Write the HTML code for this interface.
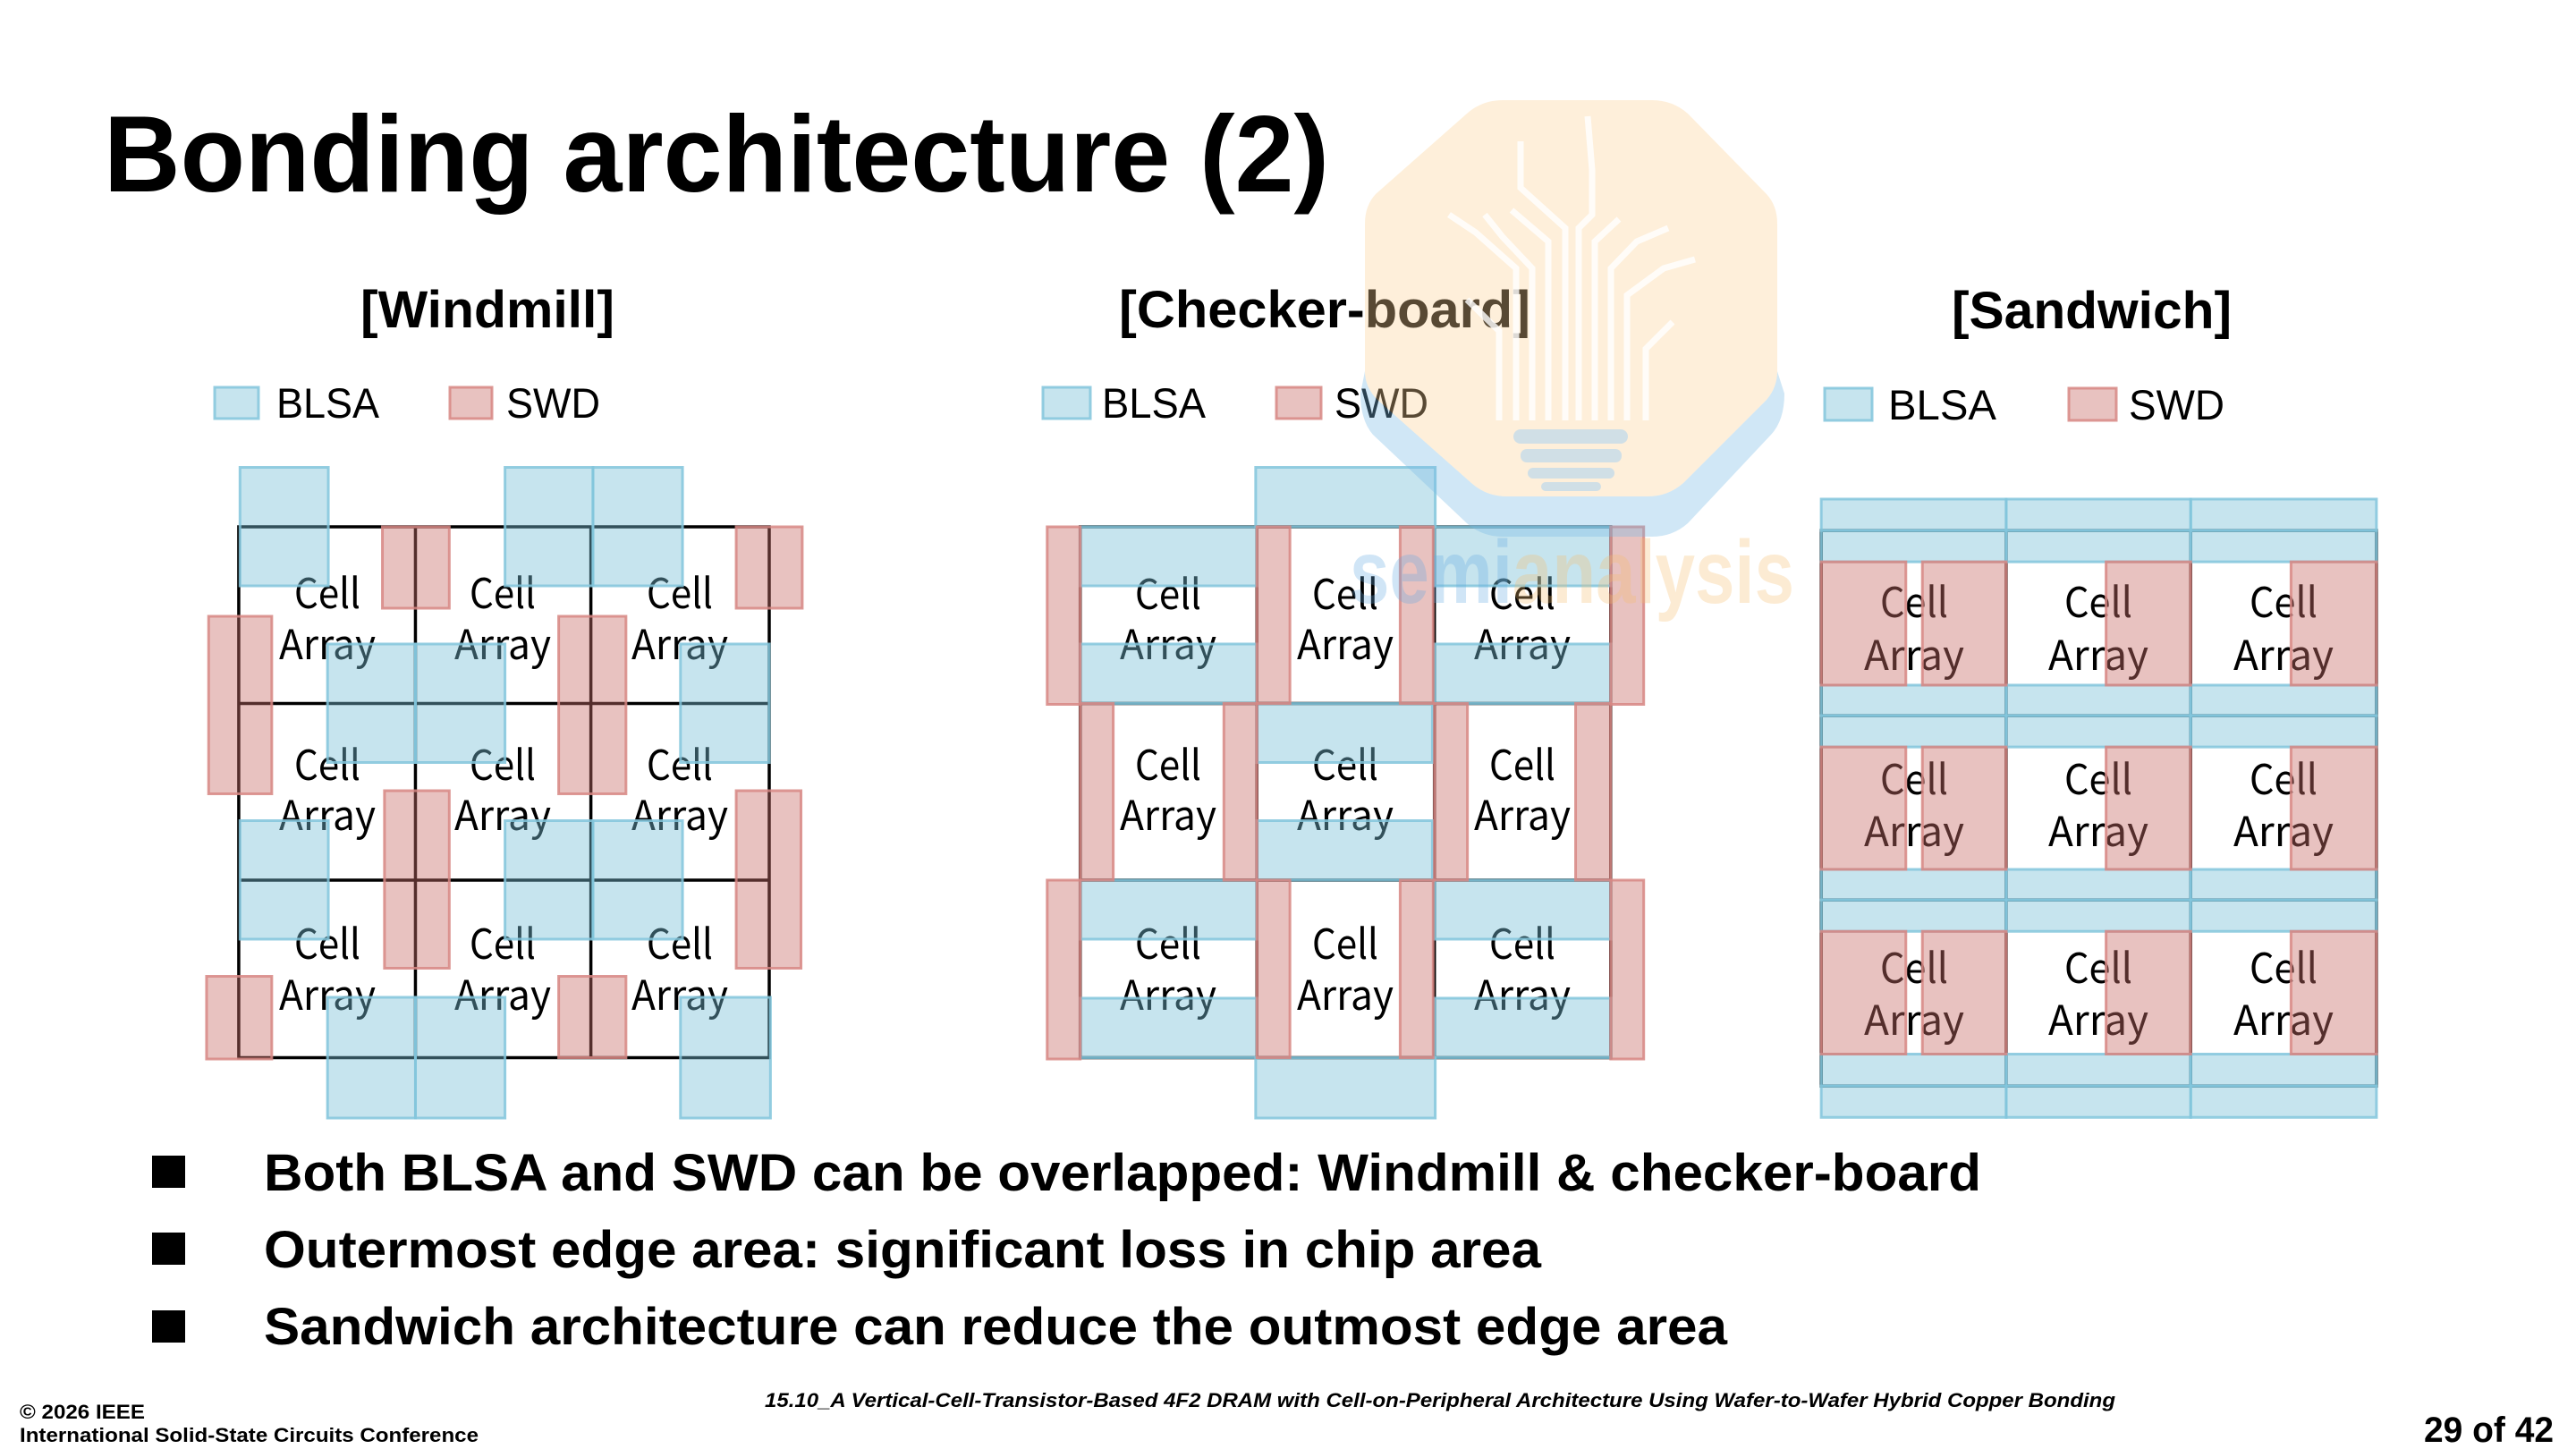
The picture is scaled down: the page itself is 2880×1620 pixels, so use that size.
<!DOCTYPE html>
<html><head><meta charset="utf-8"><style>
html,body{margin:0;padding:0;background:#fff;}
svg{display:block;}
.ca{font-family:"Noto Sans CJK KR","DejaVu Sans",sans-serif;font-size:46px;fill:#000;text-anchor:middle;}
.b{fill:rgb(120,190,215);fill-opacity:0.42;stroke:rgb(130,198,220);stroke-opacity:0.85;stroke-width:3;}
.r{fill:rgb(200,110,105);fill-opacity:0.42;stroke:rgb(215,135,132);stroke-opacity:0.85;stroke-width:3;}
.g{stroke:#000;stroke-width:3.5;fill:none;}
</style></head><body>
<svg width="2880" height="1620" viewBox="0 0 2880 1620" xmlns="http://www.w3.org/2000/svg">
<rect width="2880" height="1620" fill="#fff"/>
<g font-family="Liberation Sans, Arial, sans-serif" fill="#000">
<text x="116" y="214" font-size="122" font-weight="bold" textLength="1370" lengthAdjust="spacingAndGlyphs">Bonding architecture (2)</text>
<text x="403" y="366" font-size="58" font-weight="bold" textLength="284" lengthAdjust="spacingAndGlyphs">[Windmill]</text>
<text x="1251" y="366" font-size="58" font-weight="bold" textLength="460" lengthAdjust="spacingAndGlyphs">[Checker-board]</text>
<text x="2182" y="367" font-size="58" font-weight="bold" textLength="313" lengthAdjust="spacingAndGlyphs">[Sandwich]</text>
<rect class="b" x="240" y="433" width="49" height="35"/>
<text x="309" y="467" font-size="47" textLength="115" lengthAdjust="spacingAndGlyphs">BLSA</text>
<rect class="r" x="503" y="433" width="47" height="35"/>
<text x="566" y="467" font-size="47" textLength="105" lengthAdjust="spacingAndGlyphs">SWD</text>
<rect class="b" x="1166" y="433" width="53" height="35"/>
<text x="1232" y="467" font-size="47" textLength="116" lengthAdjust="spacingAndGlyphs">BLSA</text>
<rect class="r" x="1427" y="433" width="50" height="35"/>
<text x="1492" y="467" font-size="47" textLength="105" lengthAdjust="spacingAndGlyphs">SWD</text>
<rect class="b" x="2040" y="434" width="53" height="36"/>
<text x="2111" y="469" font-size="47" textLength="121" lengthAdjust="spacingAndGlyphs">BLSA</text>
<rect class="r" x="2313" y="434" width="53" height="36"/>
<text x="2380" y="469" font-size="47" textLength="107" lengthAdjust="spacingAndGlyphs">SWD</text>

<rect x="170" y="1292" width="37" height="36"/>
<rect x="170" y="1378" width="37" height="36"/>
<rect x="170" y="1465" width="37" height="36"/>
<text x="295" y="1331" font-size="58" font-weight="bold" textLength="1920" lengthAdjust="spacingAndGlyphs">Both BLSA and SWD can be overlapped: Windmill &amp; checker-board</text>
<text x="295" y="1417" font-size="58" font-weight="bold" textLength="1428" lengthAdjust="spacingAndGlyphs">Outermost edge area: significant loss in chip area</text>
<text x="295" y="1503" font-size="58" font-weight="bold" textLength="1636" lengthAdjust="spacingAndGlyphs">Sandwich architecture can reduce the outmost edge area</text>

<text x="22" y="1586" font-size="22" font-weight="bold" textLength="140" lengthAdjust="spacingAndGlyphs">© 2026 IEEE</text>
<text x="22" y="1612" font-size="22" font-weight="bold" textLength="513" lengthAdjust="spacingAndGlyphs">International Solid-State Circuits Conference</text>
<text x="855" y="1573" font-size="22" font-weight="bold" font-style="italic" textLength="1510" lengthAdjust="spacingAndGlyphs">15.10_A Vertical-Cell-Transistor-Based 4F2 DRAM with Cell-on-Peripheral Architecture Using Wafer-to-Wafer Hybrid Copper Bonding</text>
<text x="2710" y="1612" font-size="40" font-weight="bold" textLength="145" lengthAdjust="spacingAndGlyphs">29 of 42</text>
</g>

<!-- WINDMILL -->
<g transform="translate(200,500) scale(0.46154,0.5)">
<rect x="145" y="178" width="1285" height="1187" fill="#fff"/>
<g class="g">
<rect x="145" y="178" width="1285" height="1187" vector-effect="non-scaling-stroke"/>
<line x1="573" y1="178" x2="573" y2="1365" vector-effect="non-scaling-stroke"/>
<line x1="998" y1="178" x2="998" y2="1365" vector-effect="non-scaling-stroke"/>
<line x1="145" y1="573" x2="1430" y2="573" vector-effect="non-scaling-stroke"/>
<line x1="145" y1="968" x2="1430" y2="968" vector-effect="non-scaling-stroke"/>
</g></g>
<g class="ca">
<text x="366" y="680" textLength="74" lengthAdjust="spacingAndGlyphs">Cell</text><text x="366" y="737" textLength="108" lengthAdjust="spacingAndGlyphs">Array</text>
<text x="562" y="680" textLength="74" lengthAdjust="spacingAndGlyphs">Cell</text><text x="562" y="737" textLength="108" lengthAdjust="spacingAndGlyphs">Array</text>
<text x="760" y="680" textLength="74" lengthAdjust="spacingAndGlyphs">Cell</text><text x="760" y="737" textLength="108" lengthAdjust="spacingAndGlyphs">Array</text>
<text x="366" y="872" textLength="74" lengthAdjust="spacingAndGlyphs">Cell</text><text x="366" y="928" textLength="108" lengthAdjust="spacingAndGlyphs">Array</text>
<text x="562" y="872" textLength="74" lengthAdjust="spacingAndGlyphs">Cell</text><text x="562" y="928" textLength="108" lengthAdjust="spacingAndGlyphs">Array</text>
<text x="760" y="872" textLength="74" lengthAdjust="spacingAndGlyphs">Cell</text><text x="760" y="928" textLength="108" lengthAdjust="spacingAndGlyphs">Array</text>
<text x="366" y="1072" textLength="74" lengthAdjust="spacingAndGlyphs">Cell</text><text x="366" y="1129" textLength="108" lengthAdjust="spacingAndGlyphs">Array</text>
<text x="562" y="1072" textLength="74" lengthAdjust="spacingAndGlyphs">Cell</text><text x="562" y="1129" textLength="108" lengthAdjust="spacingAndGlyphs">Array</text>
<text x="760" y="1072" textLength="74" lengthAdjust="spacingAndGlyphs">Cell</text><text x="760" y="1129" textLength="108" lengthAdjust="spacingAndGlyphs">Array</text>
</g>
<g transform="translate(200,500) scale(0.46154,0.5)">
<g class="b">
<rect x="148" y="45" width="214" height="265" vector-effect="non-scaling-stroke"/>
<rect x="790" y="45" width="213" height="265" vector-effect="non-scaling-stroke"/>
<rect x="1003" y="45" width="217" height="265" vector-effect="non-scaling-stroke"/>
<rect x="360" y="440" width="213" height="265" vector-effect="non-scaling-stroke"/>
<rect x="573" y="440" width="217" height="265" vector-effect="non-scaling-stroke"/>
<rect x="1215" y="440" width="215" height="265" vector-effect="non-scaling-stroke"/>
<rect x="148" y="835" width="214" height="265" vector-effect="non-scaling-stroke"/>
<rect x="790" y="835" width="213" height="265" vector-effect="non-scaling-stroke"/>
<rect x="1003" y="835" width="217" height="265" vector-effect="non-scaling-stroke"/>
<rect x="360" y="1230" width="213" height="270" vector-effect="non-scaling-stroke"/>
<rect x="573" y="1230" width="217" height="270" vector-effect="non-scaling-stroke"/>
<rect x="1215" y="1230" width="218" height="270" vector-effect="non-scaling-stroke"/>
</g>
<g class="r">
<rect x="493" y="178" width="162" height="182" vector-effect="non-scaling-stroke"/>
<rect x="1350" y="178" width="160" height="182" vector-effect="non-scaling-stroke"/>
<rect x="72" y="378" width="153" height="397" vector-effect="non-scaling-stroke"/>
<rect x="920" y="378" width="163" height="397" vector-effect="non-scaling-stroke"/>
<rect x="498" y="768" width="157" height="397" vector-effect="non-scaling-stroke"/>
<rect x="1350" y="768" width="157" height="397" vector-effect="non-scaling-stroke"/>
<rect x="67" y="1183" width="158" height="185" vector-effect="non-scaling-stroke"/>
<rect x="920" y="1183" width="163" height="182" vector-effect="non-scaling-stroke"/>
</g></g>

<!-- CHECKER -->
<g transform="translate(1150,500) scale(0.46154,0.5)">
<rect x="125" y="178" width="1285" height="1187" fill="#fff"/>
<g class="g">
<rect x="125" y="178" width="1285" height="1187" vector-effect="non-scaling-stroke"/>
<line x1="553" y1="178" x2="553" y2="1365" vector-effect="non-scaling-stroke"/>
<line x1="983" y1="178" x2="983" y2="1365" vector-effect="non-scaling-stroke"/>
<line x1="125" y1="573" x2="1410" y2="573" vector-effect="non-scaling-stroke"/>
<line x1="125" y1="968" x2="1410" y2="968" vector-effect="non-scaling-stroke"/>
</g></g>
<g class="ca">
<text x="1306" y="681" textLength="74" lengthAdjust="spacingAndGlyphs">Cell</text><text x="1306" y="737" textLength="108" lengthAdjust="spacingAndGlyphs">Array</text>
<text x="1504" y="681" textLength="74" lengthAdjust="spacingAndGlyphs">Cell</text><text x="1504" y="737" textLength="108" lengthAdjust="spacingAndGlyphs">Array</text>
<text x="1702" y="681" textLength="74" lengthAdjust="spacingAndGlyphs">Cell</text><text x="1702" y="737" textLength="108" lengthAdjust="spacingAndGlyphs">Array</text>
<text x="1306" y="872" textLength="74" lengthAdjust="spacingAndGlyphs">Cell</text><text x="1306" y="928" textLength="108" lengthAdjust="spacingAndGlyphs">Array</text>
<text x="1504" y="872" textLength="74" lengthAdjust="spacingAndGlyphs">Cell</text><text x="1504" y="928" textLength="108" lengthAdjust="spacingAndGlyphs">Array</text>
<text x="1702" y="872" textLength="74" lengthAdjust="spacingAndGlyphs">Cell</text><text x="1702" y="928" textLength="108" lengthAdjust="spacingAndGlyphs">Array</text>
<text x="1306" y="1072" textLength="74" lengthAdjust="spacingAndGlyphs">Cell</text><text x="1306" y="1129" textLength="108" lengthAdjust="spacingAndGlyphs">Array</text>
<text x="1504" y="1072" textLength="74" lengthAdjust="spacingAndGlyphs">Cell</text><text x="1504" y="1129" textLength="108" lengthAdjust="spacingAndGlyphs">Array</text>
<text x="1702" y="1072" textLength="74" lengthAdjust="spacingAndGlyphs">Cell</text><text x="1702" y="1129" textLength="108" lengthAdjust="spacingAndGlyphs">Array</text>
</g>
<g transform="translate(1150,500) scale(0.46154,0.5)">
<g class="b">
<rect x="125" y="178" width="428" height="132" vector-effect="non-scaling-stroke"/>
<rect x="125" y="440" width="428" height="133" vector-effect="non-scaling-stroke"/>
<rect x="983" y="178" width="427" height="132" vector-effect="non-scaling-stroke"/>
<rect x="983" y="440" width="427" height="133" vector-effect="non-scaling-stroke"/>
<rect x="553" y="573" width="425" height="132" vector-effect="non-scaling-stroke"/>
<rect x="553" y="835" width="425" height="133" vector-effect="non-scaling-stroke"/>
<rect x="125" y="968" width="428" height="132" vector-effect="non-scaling-stroke"/>
<rect x="125" y="1232" width="428" height="133" vector-effect="non-scaling-stroke"/>
<rect x="983" y="968" width="427" height="132" vector-effect="non-scaling-stroke"/>
<rect x="983" y="1232" width="427" height="133" vector-effect="non-scaling-stroke"/>
<rect x="550" y="45" width="435" height="133" vector-effect="non-scaling-stroke"/>
<rect x="550" y="1365" width="435" height="135" vector-effect="non-scaling-stroke"/>
</g>
<g class="r">
<rect x="45" y="178" width="80" height="397" vector-effect="non-scaling-stroke"/>
<rect x="1410" y="178" width="80" height="397" vector-effect="non-scaling-stroke"/>
<rect x="45" y="968" width="80" height="400" vector-effect="non-scaling-stroke"/>
<rect x="1410" y="968" width="80" height="400" vector-effect="non-scaling-stroke"/>
<rect x="553" y="178" width="80" height="395" vector-effect="non-scaling-stroke"/>
<rect x="900" y="178" width="80" height="395" vector-effect="non-scaling-stroke"/>
<rect x="553" y="968" width="80" height="397" vector-effect="non-scaling-stroke"/>
<rect x="900" y="968" width="80" height="397" vector-effect="non-scaling-stroke"/>
<rect x="125" y="573" width="80" height="395" vector-effect="non-scaling-stroke"/>
<rect x="473" y="573" width="80" height="395" vector-effect="non-scaling-stroke"/>
<rect x="983" y="573" width="80" height="395" vector-effect="non-scaling-stroke"/>
<rect x="1325" y="573" width="85" height="395" vector-effect="non-scaling-stroke"/>
</g></g>

<!-- SANDWICH -->
<g transform="translate(2020,520) scale(0.46154,0.4871)">
<rect x="35" y="150" width="1345" height="1275" fill="#fff"/>
<g class="g" stroke="#0e3f4f">
<rect x="35" y="150" width="1345" height="1275" vector-effect="non-scaling-stroke"/>
<line x1="483" y1="150" x2="483" y2="1425" vector-effect="non-scaling-stroke"/>
<line x1="930" y1="150" x2="930" y2="1425" vector-effect="non-scaling-stroke"/>
<line x1="35" y1="575" x2="1380" y2="575" vector-effect="non-scaling-stroke"/>
<line x1="35" y1="998" x2="1380" y2="998" vector-effect="non-scaling-stroke"/>
</g></g>
<g class="ca">
<text x="2140" y="690" textLength="76" lengthAdjust="spacingAndGlyphs">Cell</text><text x="2140" y="749" textLength="112" lengthAdjust="spacingAndGlyphs">Array</text>
<text x="2346" y="690" textLength="76" lengthAdjust="spacingAndGlyphs">Cell</text><text x="2346" y="749" textLength="112" lengthAdjust="spacingAndGlyphs">Array</text>
<text x="2553" y="690" textLength="76" lengthAdjust="spacingAndGlyphs">Cell</text><text x="2553" y="749" textLength="112" lengthAdjust="spacingAndGlyphs">Array</text>
<text x="2140" y="888" textLength="76" lengthAdjust="spacingAndGlyphs">Cell</text><text x="2140" y="946" textLength="112" lengthAdjust="spacingAndGlyphs">Array</text>
<text x="2346" y="888" textLength="76" lengthAdjust="spacingAndGlyphs">Cell</text><text x="2346" y="946" textLength="112" lengthAdjust="spacingAndGlyphs">Array</text>
<text x="2553" y="888" textLength="76" lengthAdjust="spacingAndGlyphs">Cell</text><text x="2553" y="946" textLength="112" lengthAdjust="spacingAndGlyphs">Array</text>
<text x="2140" y="1099" textLength="76" lengthAdjust="spacingAndGlyphs">Cell</text><text x="2140" y="1157" textLength="112" lengthAdjust="spacingAndGlyphs">Array</text>
<text x="2346" y="1099" textLength="76" lengthAdjust="spacingAndGlyphs">Cell</text><text x="2346" y="1157" textLength="112" lengthAdjust="spacingAndGlyphs">Array</text>
<text x="2553" y="1099" textLength="76" lengthAdjust="spacingAndGlyphs">Cell</text><text x="2553" y="1157" textLength="112" lengthAdjust="spacingAndGlyphs">Array</text>
</g>
<g transform="translate(2020,520) scale(0.46154,0.4871)">
<g class="b">
<rect x="35" y="78" width="448" height="72" vector-effect="non-scaling-stroke"/>
<rect x="35" y="150" width="448" height="72" vector-effect="non-scaling-stroke"/>
<rect x="35" y="505" width="448" height="70" vector-effect="non-scaling-stroke"/>
<rect x="35" y="575" width="448" height="72" vector-effect="non-scaling-stroke"/>
<rect x="35" y="928" width="448" height="70" vector-effect="non-scaling-stroke"/>
<rect x="35" y="998" width="448" height="72" vector-effect="non-scaling-stroke"/>
<rect x="35" y="1352" width="448" height="73" vector-effect="non-scaling-stroke"/>
<rect x="35" y="1425" width="448" height="72" vector-effect="non-scaling-stroke"/>
<rect x="483" y="78" width="447" height="72" vector-effect="non-scaling-stroke"/>
<rect x="483" y="150" width="447" height="72" vector-effect="non-scaling-stroke"/>
<rect x="483" y="505" width="447" height="70" vector-effect="non-scaling-stroke"/>
<rect x="483" y="575" width="447" height="72" vector-effect="non-scaling-stroke"/>
<rect x="483" y="928" width="447" height="70" vector-effect="non-scaling-stroke"/>
<rect x="483" y="998" width="447" height="72" vector-effect="non-scaling-stroke"/>
<rect x="483" y="1352" width="447" height="73" vector-effect="non-scaling-stroke"/>
<rect x="483" y="1425" width="447" height="72" vector-effect="non-scaling-stroke"/>
<rect x="930" y="78" width="450" height="72" vector-effect="non-scaling-stroke"/>
<rect x="930" y="150" width="450" height="72" vector-effect="non-scaling-stroke"/>
<rect x="930" y="505" width="450" height="70" vector-effect="non-scaling-stroke"/>
<rect x="930" y="575" width="450" height="72" vector-effect="non-scaling-stroke"/>
<rect x="930" y="928" width="450" height="70" vector-effect="non-scaling-stroke"/>
<rect x="930" y="998" width="450" height="72" vector-effect="non-scaling-stroke"/>
<rect x="930" y="1352" width="450" height="73" vector-effect="non-scaling-stroke"/>
<rect x="930" y="1425" width="450" height="72" vector-effect="non-scaling-stroke"/>
</g>
<g class="r">
<rect x="35" y="222" width="205" height="283" vector-effect="non-scaling-stroke"/>
<rect x="280" y="222" width="203" height="283" vector-effect="non-scaling-stroke"/>
<rect x="725" y="222" width="205" height="283" vector-effect="non-scaling-stroke"/>
<rect x="1173" y="222" width="207" height="283" vector-effect="non-scaling-stroke"/>
<rect x="35" y="647" width="205" height="281" vector-effect="non-scaling-stroke"/>
<rect x="280" y="647" width="203" height="281" vector-effect="non-scaling-stroke"/>
<rect x="725" y="647" width="205" height="281" vector-effect="non-scaling-stroke"/>
<rect x="1173" y="647" width="207" height="281" vector-effect="non-scaling-stroke"/>
<rect x="35" y="1070" width="205" height="282" vector-effect="non-scaling-stroke"/>
<rect x="280" y="1070" width="203" height="282" vector-effect="non-scaling-stroke"/>
<rect x="725" y="1070" width="205" height="282" vector-effect="non-scaling-stroke"/>
<rect x="1173" y="1070" width="207" height="282" vector-effect="non-scaling-stroke"/>
</g></g>

<!-- WATERMARK -->
<g>
<path d="M1540,447 L1645,540 Q1662,555 1685,555 L1842,555 Q1865,555 1882,540 L1975,447 Q1987,433 1987,415 L1995,440 Q1995,470 1980,486 L1887,585 Q1870,600 1847,600 L1680,600 Q1657,600 1640,585 L1535,486 Q1521,470 1521,440 L1526,415 Q1526,433 1540,447 Z" fill="rgb(120,185,230)" fill-opacity="0.35"/>
<path d="M1680,112 L1847,112 Q1870,112 1887,127 L1975,217 Q1987,230 1987,250 L1987,415 Q1987,433 1975,447 L1882,540 Q1865,555 1842,555 L1685,555 Q1662,555 1645,540 L1540,447 Q1526,433 1526,415 L1526,250 Q1526,230 1538,217 L1640,127 Q1657,112 1680,112 Z" fill="rgb(251,210,150)" fill-opacity="0.35"/>
<g stroke="#fff" stroke-width="7" fill="none" stroke-opacity="0.8">
<path d="M1676,470 L1676,370 L1640,335"/><path d="M1695,470 L1695,300 L1650,260 L1620,240"/>
<path d="M1713,470 L1713,300 L1680,265 L1660,240"/><path d="M1731,470 L1731,270 L1690,235"/>
<path d="M1750,470 L1750,255 L1700,210 L1700,158"/><path d="M1765,470 L1765,255 L1780,240 L1780,190 L1775,130"/>
<path d="M1783,470 L1783,270 L1810,245"/><path d="M1801,470 L1801,300 L1830,270 L1865,255"/>
<path d="M1819,470 L1819,330 L1860,300 L1895,290"/><path d="M1840,470 L1840,390 L1870,360"/>
</g>
<g fill="rgb(170,210,240)" fill-opacity="0.55">
<rect x="1692" y="480" width="128" height="16" rx="8"/>
<rect x="1700" y="502" width="113" height="15" rx="7"/>
<rect x="1708" y="523" width="97" height="12" rx="6"/>
<rect x="1723" y="539" width="67" height="10" rx="5"/>
</g>
<text x="1509" y="674" font-family="Liberation Sans, Arial, sans-serif" font-weight="bold" font-size="100" textLength="497" lengthAdjust="spacingAndGlyphs"><tspan fill="rgb(100,170,225)" fill-opacity="0.3">semi</tspan><tspan fill="rgb(245,190,110)" fill-opacity="0.3">analysis</tspan></text>
</g>
</svg>
</body></html>
